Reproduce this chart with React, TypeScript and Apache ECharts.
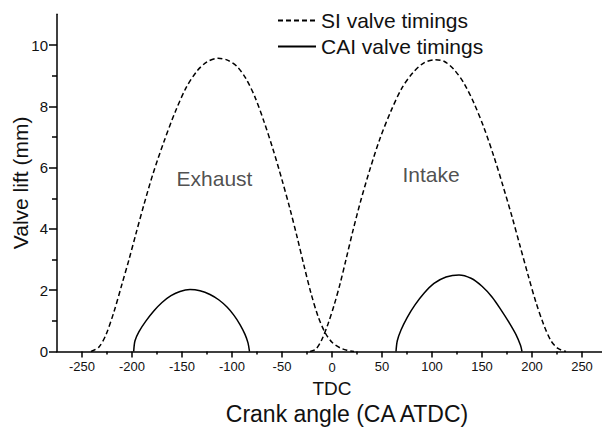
import React, { useEffect, useRef } from 'react';
import * as echarts from 'echarts';

// ---- Data (crank angle in CA ATDC, valve lift in mm) ----
const SI_EXHAUST: [number, number][] = [
  [-241, 0], [-233, 0.15], [-226, 0.55], [-218, 1.3], [-210, 2.2], [-203, 3.0],
  [-196, 3.85], [-188, 4.8], [-179, 5.8], [-168, 6.85], [-157, 7.8], [-146, 8.6],
  [-135, 9.15], [-125, 9.45], [-114, 9.57], [-104, 9.5], [-95, 9.3], [-86, 8.9],
  [-77, 8.3], [-68, 7.5], [-59, 6.6], [-50, 5.6], [-42, 4.65], [-35, 3.75],
  [-28, 2.8], [-21, 1.9], [-14, 1.15], [-7, 0.62], [0, 0.3], [8, 0.12],
  [15, 0.04], [22, 0],
];
const SI_INTAKE: [number, number][] = [
  [-22, 0], [-16, 0.08], [-10, 0.4], [-4, 0.9], [2, 1.5], [8, 2.2], [14, 3.0],
  [21, 3.95], [29, 4.95], [38, 5.95], [48, 6.95], [59, 7.85], [70, 8.6], [81, 9.1],
  [92, 9.42], [103, 9.52], [112, 9.47], [122, 9.2], [132, 8.75], [142, 8.1],
  [152, 7.3], [162, 6.35], [171, 5.4], [180, 4.4], [188, 3.45], [196, 2.5],
  [204, 1.6], [212, 0.85], [219, 0.35], [226, 0.1], [234, 0],
];
const CAI_EXHAUST: [number, number][] = [
  [-198.3, 0], [-197, 0.35], [-193, 0.65], [-186, 1.0], [-178, 1.33], [-170, 1.6],
  [-161, 1.82], [-152, 1.96], [-142, 2.02], [-132, 1.98], [-122, 1.86], [-113, 1.68],
  [-105, 1.45], [-98, 1.18], [-92, 0.88], [-87, 0.56], [-84, 0.28], [-82.5, 0],
];
const CAI_INTAKE: [number, number][] = [
  [64, 0], [65.3, 0.35], [69, 0.7], [75, 1.1], [83, 1.52], [92, 1.9], [102, 2.22],
  [114, 2.43], [127, 2.5], [139, 2.39], [150, 2.13], [160, 1.78], [169, 1.36],
  [177, 0.95], [184, 0.55], [188.5, 0.2], [190, 0],
];
const ANNOTATIONS: [number, number, string][] = [
  [-117.5, 5.65, 'Exhaust'],
  [99, 5.76, 'Intake'],
];

const X_MAJOR = [-250, -200, -150, -100, -50, 0, 50, 100, 150, 200, 250];
const X_MINOR = [-225, -175, -125, -75, -25, 25, 75, 125, 175, 225];
const Y_MAJOR = [0, 2, 4, 6, 8, 10];
const Y_MINOR = [1, 3, 5, 7, 9];

const SI_NAME = 'SI valve timings';
const CAI_NAME = 'CAI valve timings';
const X_NAME = 'Crank angle (CA ATDC)';
const Y_NAME = 'Valve lift (mm)';
const TDC_LABEL = 'TDC';

const FONT = '"Liberation Sans", Arial, sans-serif';
const INK = '#111';

export default function App() {
  const ref = useRef<HTMLDivElement>(null);
  useEffect(() => {
    if (!ref.current) return;
    const chart = echarts.init(ref.current, null, { renderer: 'svg' });
    const dashed = { color: '#000', width: 1.5, type: [5, 3] as number[] };
    const solid = { color: '#000', width: 1.5, type: 'solid' as const };
    const lineSeries = (name: string, data: [number, number][], ls: any) => ({
      name,
      type: 'line',
      data,
      symbol: 'none',
      showSymbol: false,
      smooth: 0.3,
      lineStyle: ls,
      itemStyle: { color: '#000' },
      silent: true,
    });
    const xMin = -275;
    const xMax = 270;
    chart.setOption({
      animation: false,
      backgroundColor: '#fff',
      textStyle: { fontFamily: FONT, color: INK },
      grid: {
        left: 57,
        right: 0,
        top: 14.35,
        bottom: 80.5,
        containLabel: false,
        outerBoundsMode: 'none',
      },
      legend: {
        data: [SI_NAME, CAI_NAME],
        orient: 'vertical',
        left: 277,
        top: 10,
        itemWidth: 38,
        itemHeight: 14,
        itemGap: 5,
        padding: 0,
        selectedMode: false,
        itemStyle: { color: 'rgba(0,0,0,0)', borderColor: 'rgba(0,0,0,0)', borderWidth: 0, opacity: 0 },
        textStyle: { fontFamily: FONT, fontSize: 21, color: INK },
      },
      xAxis: [
        {
          type: 'value',
          min: xMin,
          max: xMax,
          position: 'bottom',
          splitLine: { show: false },
          axisLine: { show: true, onZero: false, lineStyle: { color: '#000', width: 1.5 } },
          axisTick: {
            show: true,
            customValues: X_MAJOR,
            length: 6,
            lineStyle: { color: '#000', width: 1.5 },
          },
          axisLabel: {
            show: true,
            customValues: X_MAJOR,
            margin: 8,
            fontSize: 13,
            fontFamily: FONT,
            color: INK,
            formatter: (v: number) => (v === 0 ? `{n|0}\n{t|${TDC_LABEL}}` : String(v)),
            rich: {
              n: { fontSize: 13, lineHeight: 16, fontFamily: FONT, color: INK },
              t: { fontSize: 19, lineHeight: 26, fontFamily: FONT, color: INK },
            },
          },
          name: X_NAME,
          nameLocation: 'middle',
          nameGap: 48,
          nameTextStyle: { fontSize: 23, fontFamily: FONT, color: INK, padding: [0, 0, 0, 35] },
        },
        {
          type: 'value',
          min: xMin,
          max: xMax,
          position: 'bottom',
          splitLine: { show: false },
          axisLine: { show: false, onZero: false },
          axisTick: {
            show: true,
            customValues: X_MINOR,
            length: 3,
            lineStyle: { color: '#000', width: 1.5 },
          },
          axisLabel: { show: false },
        },
      ],
      yAxis: [
        {
          type: 'value',
          min: 0,
          max: 11,
          position: 'left',
          splitLine: { show: false },
          axisLine: { show: true, onZero: false, lineStyle: { color: '#000', width: 1.5 } },
          axisTick: {
            show: true,
            customValues: Y_MAJOR,
            length: 8,
            lineStyle: { color: '#000', width: 1.5 },
          },
          axisLabel: {
            show: true,
            customValues: Y_MAJOR,
            margin: 9,
            fontSize: 15,
            fontFamily: FONT,
            color: INK,
          },
          name: Y_NAME,
          nameLocation: 'middle',
          nameGap: 26,
          nameMoveOverlap: false,
          nameRotate: 90,
          nameTextStyle: { fontSize: 21, fontFamily: FONT, color: INK },
        },
        {
          type: 'value',
          min: 0,
          max: 11,
          position: 'left',
          splitLine: { show: false },
          axisLine: { show: false, onZero: false },
          axisTick: {
            show: true,
            customValues: Y_MINOR,
            length: 5,
            lineStyle: { color: '#000', width: 1.5 },
          },
          axisLabel: { show: false },
        },
      ],
      series: [
        lineSeries(SI_NAME, SI_EXHAUST, dashed),
        lineSeries(SI_NAME, SI_INTAKE, dashed),
        lineSeries(CAI_NAME, CAI_EXHAUST, solid),
        lineSeries(CAI_NAME, CAI_INTAKE, solid),
        {
          name: 'annotations',
          type: 'scatter',
          data: ANNOTATIONS,
          symbolSize: 1,
          itemStyle: { color: 'rgba(0,0,0,0)' },
          silent: true,
          label: {
            show: true,
            position: 'inside',
            formatter: (p: any) => p.data[2],
            fontSize: 21,
            fontFamily: FONT,
            color: '#222',
          },
        },
      ],
    });
    return () => chart.dispose();
  }, []);
  return (
    <div
      ref={ref}
      style={{ position: 'fixed', left: 0, top: 0, width: 602, height: 432, background: '#fff' }}
    />
  );
}
